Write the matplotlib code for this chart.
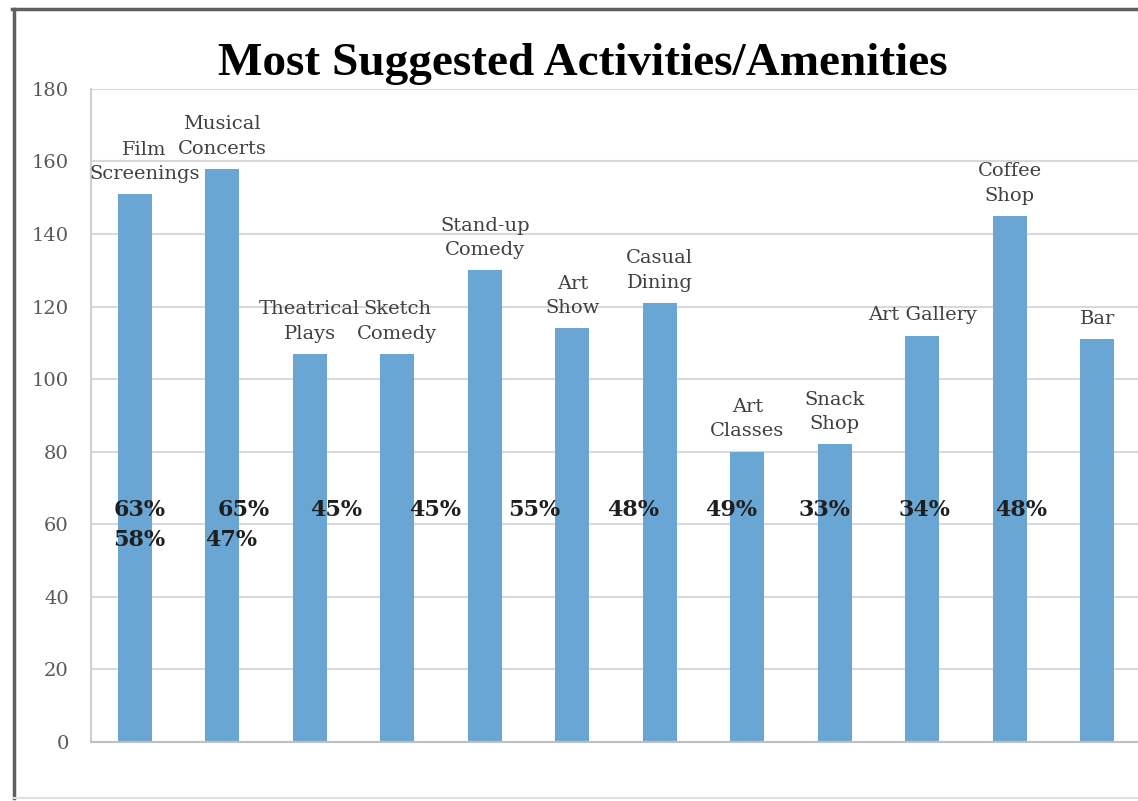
import matplotlib.pyplot as plt
from matplotlib.lines import Line2D
import numpy as np

# survey results: how many people suggested each activity / amenity
activities = ['Film\nScreenings', 'Musical\nConcerts', 'Theatrical\nPlays', 'Sketch\nComedy',
              'Stand-up\nComedy', 'Art\nShow', 'Casual\nDining', 'Art\nClasses',
              'Snack\nShop', 'Art Gallery', 'Coffee\nShop', 'Bar']
counts = [151, 158, 107, 107, 130, 114, 121, 80, 82, 112, 145, 111]

# percentage call-outs (two rows of text boxes sitting over the bars)
pct_row1 = ['63%', '65%', '45%', '45%', '55%', '48%', '49%', '33%', '34%', '48%']
pct_row2 = ['58%', '47%']

y_ticks = list(range(0, 181, 20))

# layout of the text boxes, in category units / axis units
row1_x = [0.05, 1.24, 2.30, 3.43, 4.56, 5.70, 6.81, 7.88, 9.02, 10.13]
row2_x = [0.05, 1.10]
row1_y, row2_y = 63.9, 55.6

BAR_COLOR = '#6AA6D3'
GRID_COLOR = '#D9D9D9'
SERIF = 'DejaVu Serif'

fig = plt.figure(figsize=(11.38, 8.01), dpi=100)
ax = fig.add_axes([0.0800, 0.0740, 0.9227, 0.8150])

x = np.arange(len(activities))
ax.bar(x, counts, width=0.39, color=BAR_COLOR, zorder=2)

# category names above each bar
for i, (name, v) in enumerate(zip(activities, counts)):
    nudge = 7 if i == 0 else 0  # keep first label inside the plot area
    ax.annotate(name, (i, v), xytext=(nudge, 8), textcoords='offset points',
                ha='center', va='bottom', fontsize=14, family=SERIF,
                color='#404040', linespacing=1.45, zorder=3)

for px, txt in zip(row1_x, pct_row1):
    ax.text(px, row1_y, txt, ha='center', va='center', fontsize=16,
            fontweight='bold', family=SERIF, color='#1f1f1f', zorder=4)
for px, txt in zip(row2_x, pct_row2):
    ax.text(px, row2_y, txt, ha='center', va='center', fontsize=16,
            fontweight='bold', family=SERIF, color='#1f1f1f', zorder=4)

ax.set_xlim(-0.5, len(activities) - 0.5)
ax.set_ylim(0, 180)
ax.set_yticks(y_ticks)
ax.set_xticks([])
ax.tick_params(axis='y', length=0, pad=16, labelsize=14, labelcolor='#595959')
for lab in ax.get_yticklabels():
    lab.set_family(SERIF)
ax.grid(axis='y', color=GRID_COLOR, linewidth=1.5, zorder=0)
ax.set_axisbelow(True)

for side in ['top', 'right']:
    ax.spines[side].set_visible(False)
ax.spines['left'].set_color('#D0D0D0')
ax.spines['left'].set_linewidth(1.5)
ax.spines['bottom'].set_color('#BFBFBF')
ax.spines['bottom'].set_linewidth(1.5)

fig.text(583 / 1138, 1 - 75 / 801, 'Most Suggested Activities/Amenities',
         ha='center', va='baseline', fontsize=34, fontweight='bold',
         family='Liberation Serif', color='black')

# chart frame
fig.add_artist(Line2D([13.5 / 1138, 13.5 / 1138], [1 - 8.5 / 801, 3 / 801],
                      transform=fig.transFigure, color='#5f5f5f', linewidth=2.5))
fig.add_artist(Line2D([12.3 / 1138, 1.0], [1 - 8.5 / 801, 1 - 8.5 / 801],
                      transform=fig.transFigure, color='#5f5f5f', linewidth=2.5))
fig.add_artist(Line2D([13.5 / 1138, 1.0], [3 / 801, 3 / 801],
                      transform=fig.transFigure, color='#E0E0E0', linewidth=1.5))

fig.savefig('out.png', dpi=100)
